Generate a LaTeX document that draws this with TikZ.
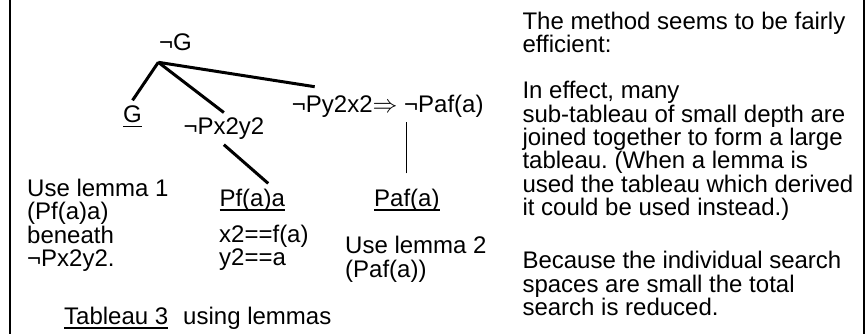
\documentclass[tikz,border=0pt]{standalone}
\usepackage{fontspec}
\setmainfont{Liberation Sans}
\usetikzlibrary{positioning}
\frenchspacing
\newcommand{\undl}[1]{\setbox0=\hbox{#1}\rlap{\rule[-4.6pt]{\wd0}{1.3pt}}\box0}
\tikzset{
    formula/.style = {inner sep = 5pt, anchor = base west, font = \fontsize{24}{23.4}\selectfont},
    note/.style = {formula, inner sep = 0pt, align = left},
    branch/.style = {line width = 3pt},
    link/.style = {line width = 1pt},
    frame/.style = {line width = 2pt},
}

\begin{document}
\begin{tikzpicture}[x = 1pt, y = -1pt]
    \useasboundingbox (0,0) rectangle (866,334);
    \draw [frame] (10,0) -- (10,334);
    \draw [frame] (864,0) -- (864,334);

    \node (negG) [formula] at (154, 51) {¬G};
    \coordinate (root) at (158.3, 62.3);
    \node (G) [formula] at (118, 122.3) {\undl{G}};
    \node (negPxy) [formula] at (178.3, 134.5) {¬Px2y2};
    \node (negPyx) [formula] at (286.7, 112.3) {¬Py2x2$\Rightarrow$ ¬Paf(a)};
    \node (Pfa) [formula] at (214.3, 206) {\undl{Pf(a)a}};
    \node (Paf) [formula] at (369, 206) {\undl{Paf(a)}};

    \draw [branch] (root) -- (G.north);
    \draw [branch] (root) -- (negPxy.north);
    \draw [branch] (root) -- ([xshift = 28pt, yshift = 3pt]negPyx.north west);
    \draw [branch] (negPxy.south) -- ([xshift = 16pt]Pfa.north);
    \draw [link] ([yshift = 10pt]Paf.north) -- (Paf.north |- negPyx.south);

    % multi-line notes sit on the baseline of their last line
    \node (lemmaone) [note] at (27, 266.7) {Use lemma 1\\(Pf(a)a)\\beneath\\¬Px2y2.};
    \node (subst) [note] at (219, 265.5) {x2==f(a)\\y2==a};
    \node (lemmatwo) [note] at (345, 277) {Use lemma 2\\(Paf(a))};
    \node (caption) [note] at (64, 324) {\undl{Tableau 3}\hspace{15pt}using lemmas};

    \node (method) [note] at (522.3, 53) {The method seems to be fairly\\efficient:};
    \node (effect) [note] at (522.3, 215.7) {In effect, many\\sub-tableau of small depth are\\joined together to form a large\\tableau. (When a lemma is\\used the tableau which derived\\it could be used instead.)};
    \node (search) [note] at (522.3, 315.7) {Because the individual search\\spaces are small the total\\search is reduced.};
\end{tikzpicture}
\end{document}
